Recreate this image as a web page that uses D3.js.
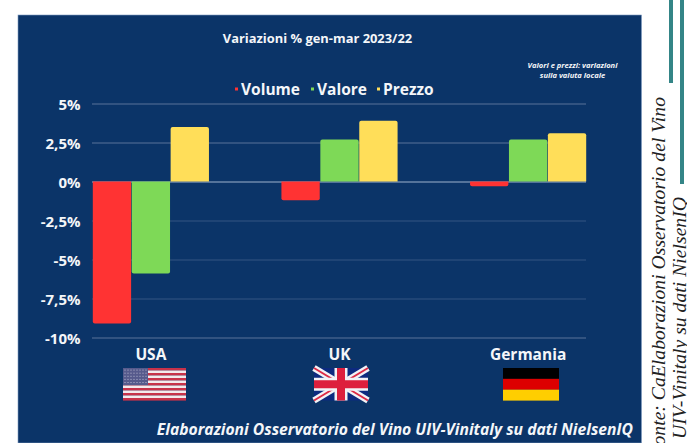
<!DOCTYPE html>
<html>
<head>
<meta charset="utf-8">
<script src="https://cdn.jsdelivr.net/npm/d3@7"></script>
<style>
  html, body { margin: 0; padding: 0; background: #fff; overflow: hidden; }
  svg { display: block; }
  text { font-family: "Open Sans", sans-serif; font-weight: 700; fill: #f4f6f9; }
</style>
</head>
<body>
<script>
// dati
let paesi = ['USA', 'UK', 'Germania']
let serie = ['Volume', 'Valore', 'Prezzo']
let volume = [-9.1, -1.2, -0.3]
let valore = [-5.9, 2.7, 2.7]
let prezzo = [3.5, 3.9, 3.1]
let tickValori = [5, 2.5, 0, -2.5, -5, -7.5, -10]
let tickLabel = ['5%', '2,5%', '0%', '-2,5%', '-5%', '-7,5%', '-10%']
let colori = ['#ff3333', '#7ed957', '#ffde59']
let valori = [volume, valore, prezzo]

let svg = d3.select('body').append('svg')
  .attr('width', 687)
  .attr('height', 443)

// sfondo
svg.append('rect')
  .attr('x', 18).attr('y', 15)
  .attr('width', 623.5).attr('height', 428)
  .attr('fill', '#0b3468')
  .attr('stroke', '#7f9cc0')
  .attr('stroke-width', 0.6)

// scale
let x0 = d3.scaleBand().domain(paesi).range([92.5, 586.5]).paddingInner(0.381)
let x1 = d3.scaleBand().domain(serie).range([0, x0.bandwidth()])
let y = d3.scaleLinear().domain([-10, 5]).range([337.5, 103.5])

// griglia e asse
let asse = d3.axisLeft(y)
  .tickValues(tickValori)
  .tickSize(-494)
  .tickPadding(11.5)
  .tickFormat(function (d) { return tickLabel[tickValori.indexOf(d)] })
let gAsse = svg.append('g')
  .attr('transform', 'translate(92,0)')
  .call(asse)
gAsse.select('.domain').remove()
gAsse.selectAll('line')
  .attr('stroke', function (d) { return d === 0 ? '#9fb2cc' : '#5a7399' })
  .attr('stroke-width', 1)
  .attr('opacity', function (d) { return (d === -2.5 || d === -5 || d === -7.5) ? 0.55 : 1 })
gAsse.selectAll('text')
  .attr('font-size', 15)
  .attr('dy', '0.62em')
  .style('font-family', '"Open Sans", sans-serif')
  .style('font-weight', 700)
  .attr('fill', '#f4f6f9')
  .attr('transform', 'translate(0,-3.6)')

// barre con angoli arrotondati solo in fondo
function barra (xa, w, v) {
  let y0 = y(0)
  let y1 = y(v)
  let r = Math.min(2, Math.abs(y1 - y0))
  let s = v < 0 ? 1 : -1
  let sweep = v < 0 ? 1 : 0
  return 'M' + xa + ',' + y0 +
    'L' + (xa + w) + ',' + y0 +
    'L' + (xa + w) + ',' + (y1 - s * r) +
    'A' + r + ',' + r + ' 0 0 ' + sweep + ' ' + (xa + w - r) + ',' + y1 +
    'L' + (xa + r) + ',' + y1 +
    'A' + r + ',' + r + ' 0 0 ' + sweep + ' ' + xa + ',' + (y1 - s * r) + 'Z'
}

serie.forEach(function (nome, i) {
  svg.append('g').selectAll('path')
    .data(paesi)
    .enter()
    .append('path')
    .attr('d', function (d, j) {
      return barra(x0(d) + x1(nome) + 0.3, x1.bandwidth() - 0.6, valori[i][j])
    })
    .attr('fill', colori[i])
})

// titolo
svg.append('text')
  .attr('x', 317.5).attr('y', 43)
  .attr('text-anchor', 'middle')
  .attr('font-size', 12.9)
  .text('Variazioni % gen-mar 2023/22')

// nota
let nota = ['Valori e prezzi: variazioni', 'sulla valuta locale']
svg.append('g').selectAll('text')
  .data(nota)
  .enter()
  .append('text')
  .attr('x', 572.5)
  .attr('y', function (d, i) { return 67.5 + i * 10 })
  .attr('text-anchor', 'middle')
  .attr('font-size', 7.6)
  .attr('font-style', 'italic')
  .text(function (d) { return d })

// legenda
let legendaX = d3.scaleOrdinal().domain(serie).range([241, 317, 383])
let gLeg = svg.append('g').selectAll('g')
  .data(serie)
  .enter()
  .append('g')
  .attr('transform', function (d) { return 'translate(' + legendaX(d) + ',95)' })
gLeg.append('rect')
  .attr('x', -6).attr('y', -7.5)
  .attr('width', 3).attr('height', 3)
  .attr('fill', function (d, i) { return colori[i] })
gLeg.append('text')
  .attr('font-size', 15.5)
  .text(function (d) { return d })

// etichette paesi
svg.append('g').selectAll('text')
  .data(paesi)
  .enter()
  .append('text')
  .attr('x', function (d) { return x0(d) + x0.bandwidth() / 2 })
  .attr('y', 360)
  .attr('text-anchor', 'middle')
  .attr('font-size', 15.5)
  .text(function (d) { return d })

// bandiere
function bandieraUSA (g) {
  let w = 63, h = 32.5
  d3.range(13).forEach(function (i) {
    g.append('rect').attr('y', i * h / 13).attr('width', w).attr('height', h / 13 + 0.1)
      .attr('fill', i % 2 ? '#f3e9ec' : '#c8324a')
  })
  g.append('rect').attr('width', 25).attr('height', h * 7 / 13 - 0.5).attr('fill', '#565a8c')
  d3.range(5).forEach(function (r) {
    d3.range(8).forEach(function (c) {
      g.append('rect')
        .attr('x', 1.5 + c * 3).attr('y', 1.6 + r * 3.1)
        .attr('width', 1).attr('height', 1)
        .attr('fill', '#b9bbd2')
    })
  })
}
function bandieraUK (g) {
  let w = 54, h = 32.5
  g.append('rect').attr('width', w).attr('height', h).attr('fill', '#0d2a7f')
  let diag = [[0, 0, w, h], [0, h, w, 0]]
  diag.forEach(function (d) {
    g.append('line').attr('x1', d[0]).attr('y1', d[1]).attr('x2', d[2]).attr('y2', d[3])
      .attr('stroke', '#f2f2f6').attr('stroke-width', 6.5)
    g.append('line').attr('x1', d[0]).attr('y1', d[1]).attr('x2', d[2]).attr('y2', d[3])
      .attr('stroke', '#dd2a45').attr('stroke-width', 2)
  })
  g.append('rect').attr('x', w / 2 - 6.5).attr('width', 13).attr('height', h).attr('fill', '#f2f2f6')
  g.append('rect').attr('y', h / 2 - 6.5).attr('width', w).attr('height', 13).attr('fill', '#f2f2f6')
  g.append('rect').attr('x', w / 2 - 4).attr('width', 8).attr('height', h).attr('fill', '#dd1f3d')
  g.append('rect').attr('y', h / 2 - 4).attr('width', w).attr('height', 8).attr('fill', '#dd1f3d')
}
function bandieraDE (g) {
  let w = 56, h = 32.5
  ;['#000000', '#dd0000', '#ffce00'].forEach(function (c, i) {
    g.append('rect').attr('y', i * h / 3).attr('width', w).attr('height', h / 3 + 0.1).attr('fill', c)
  })
}
bandieraUSA(svg.append('g').attr('transform', 'translate(123,368)'))
bandieraUK(svg.append('g').attr('transform', 'translate(314,368)'))
bandieraDE(svg.append('g').attr('transform', 'translate(503,368)'))

// fonte in basso
svg.append('text')
  .attr('x', 633).attr('y', 435)
  .attr('text-anchor', 'end')
  .attr('font-size', 15.7)
  .attr('font-style', 'italic')
  .text('Elaborazioni Osservatorio del Vino UIV-Vinitaly su dati NielsenIQ')

// righe verticali a destra
svg.append('rect').attr('x', 669).attr('y', 0).attr('width', 4).attr('height', 83).attr('fill', '#348587')
svg.append('rect').attr('x', 680).attr('y', 0).attr('width', 4).attr('height', 184).attr('fill', '#348587')

// testo ruotato a destra
let laterale = ['Fonte: CaElaborazioni Osservatorio del Vino', 'UIV-Vinitaly su dati NielsenIQ']
svg.append('g').selectAll('text')
  .data(laterale)
  .enter()
  .append('text')
  .attr('transform', function (d, i) {
    return 'translate(' + (665 + i * 21) + ',' + (i ? 197 : 97) + ') rotate(-90)'
  })
  .attr('text-anchor', 'end')
  .attr('font-size', 19.7)
  .style('font-family', '"Liberation Serif", serif')
  .style('font-weight', 400)
  .style('font-style', 'italic')
  .style('fill', '#222')
  .text(function (d) { return d })
</script>
</body>
</html>
